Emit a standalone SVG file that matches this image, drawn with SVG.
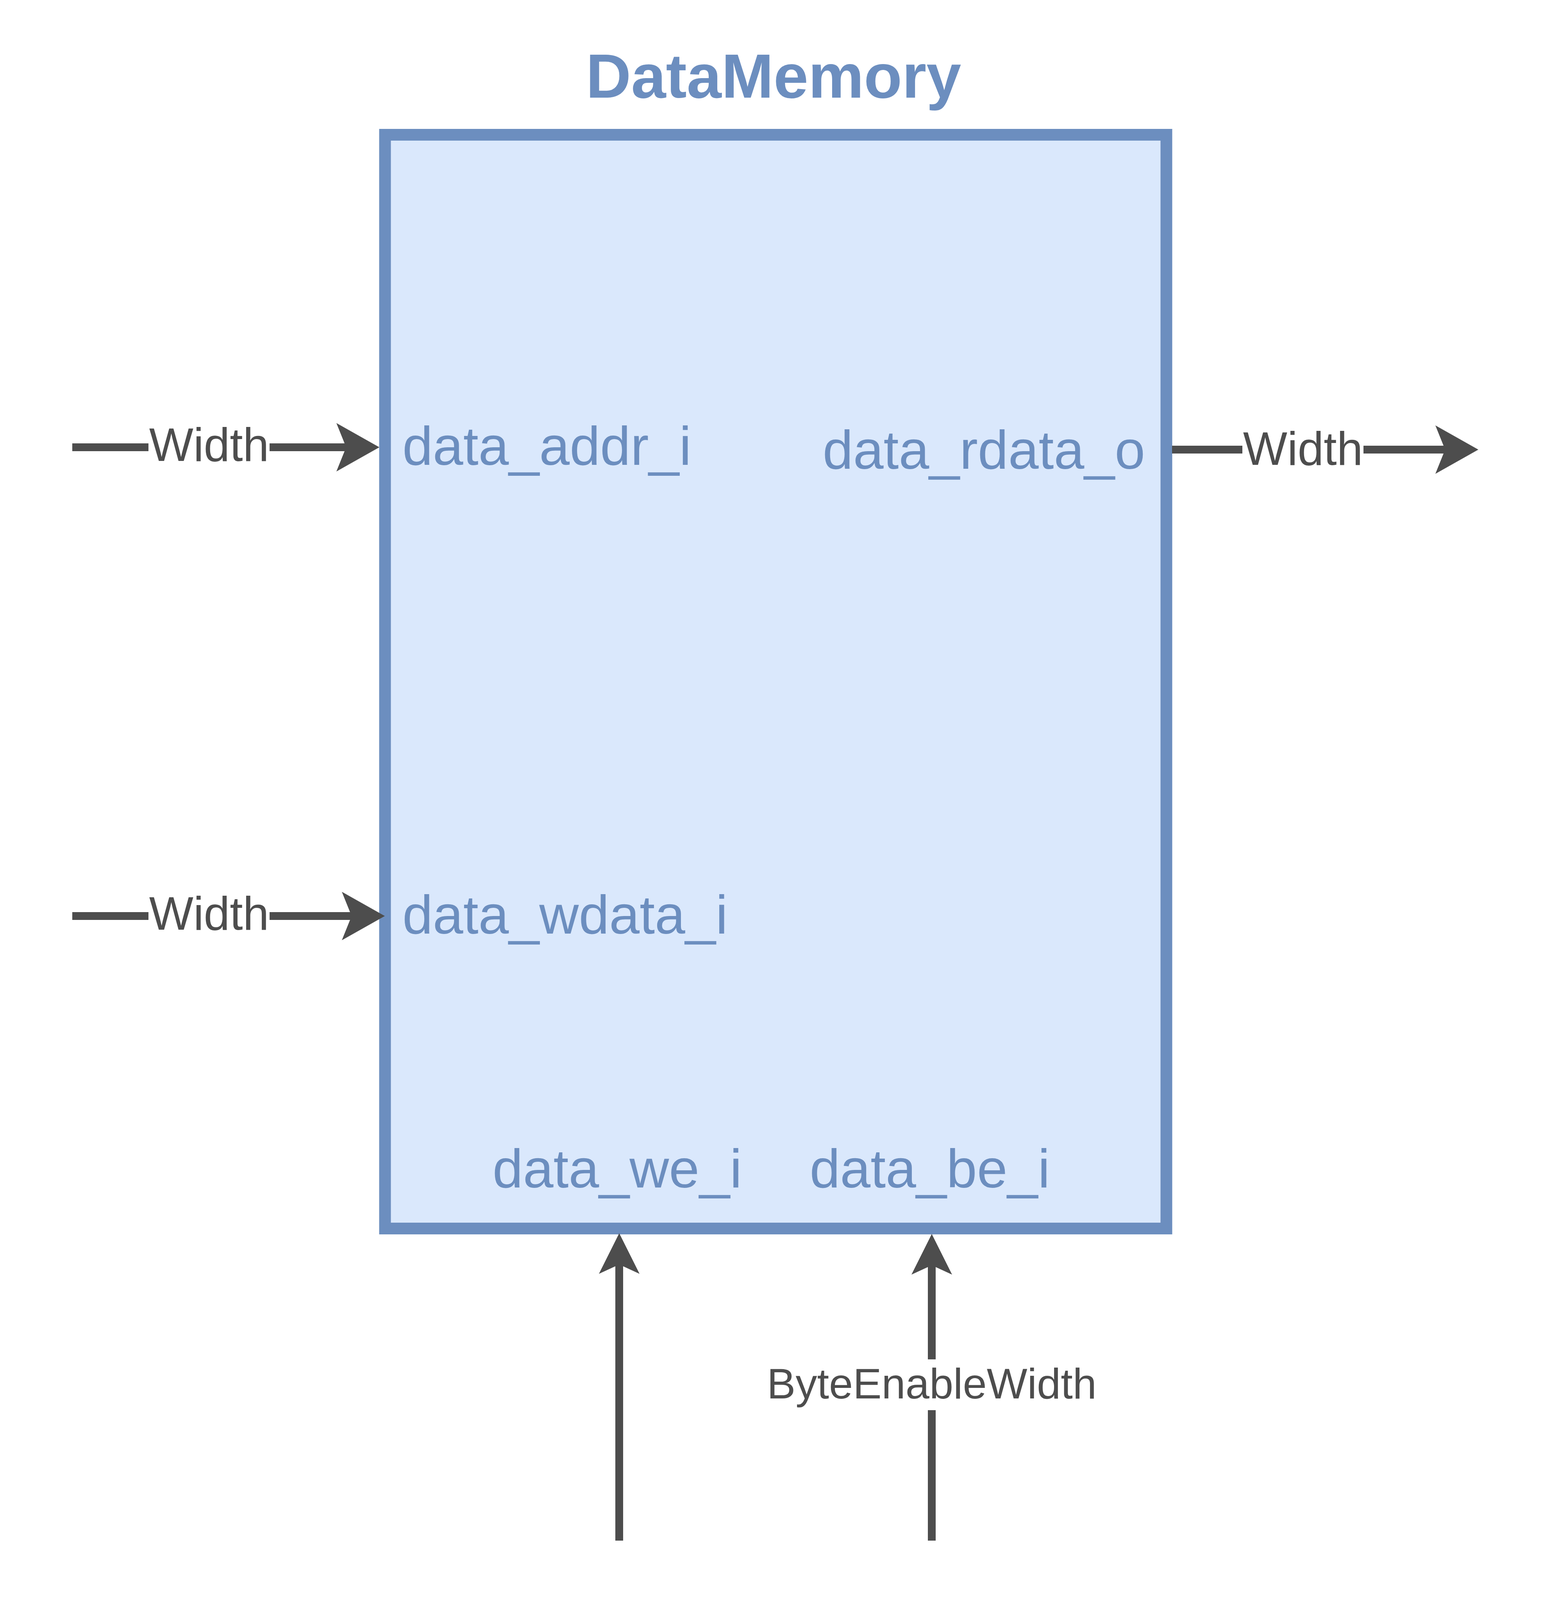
<svg xmlns="http://www.w3.org/2000/svg" width="3970" height="4120" viewBox="0 0 3970 4120">
<style>
.bg{fill:#ffffff}
.block{fill:#dae8fc;stroke:#6c8ebf;stroke-width:30}
.title{font-family:"Liberation Sans",Arial,sans-serif;font-weight:bold;font-size:160px;fill:#6c8ebf}
.port{font-family:"Liberation Sans",Arial,sans-serif;font-size:140px;fill:#6c8ebf}
.wire{stroke:#4d4d4d;stroke-width:20;fill:none}
.wlabel{font-family:"Liberation Sans",Arial,sans-serif;font-size:120px;fill:#4d4d4d}
.blabel{font-family:"Liberation Sans",Arial,sans-serif;font-size:110px;fill:#4d4d4d}
.lbg{fill:#ffffff}
</style>
<defs>
<marker id="arrowH" markerUnits="userSpaceOnUse" viewBox="-25 -62 110 124" markerWidth="110" markerHeight="124" refX="0" refY="0" orient="auto">
<path d="M85,0 L-25,-62 L0,0 L-25,62 Z" fill="#4d4d4d"/>
</marker>
<marker id="arrowV" markerUnits="userSpaceOnUse" viewBox="-24 -52 104 104" markerWidth="104" markerHeight="104" refX="0" refY="0" orient="auto">
<path d="M80,0 L-24,-52 L0,0 L-24,52 Z" fill="#4d4d4d"/>
</marker>
</defs>
<rect class="bg" x="0" y="0" width="3970" height="4120"/>
<g id="DataMemory">
<rect class="block" x="985.5" y="345" width="2000" height="2800"/>
<text class="title" x="1980" y="250" text-anchor="middle">DataMemory</text>
<text class="port" x="1030" y="1190">data_addr_i</text>
<text class="port" x="2931" y="1200" text-anchor="end">data_rdata_o</text>
<text class="port" x="1030" y="2390">data_wdata_i</text>
<text class="port" x="1580" y="3040" text-anchor="middle">data_we_i</text>
<text class="port" x="2380" y="3040" text-anchor="middle">data_be_i</text>
</g>
<g id="connectors">
<g id="conn_addr">
<line class="wire" x1="185" y1="1145" x2="886" y2="1145" marker-end="url(#arrowH)"/>
<rect class="lbg" x="380" y="1080" width="310" height="130"/>
<text class="wlabel" x="535" y="1180" text-anchor="middle">Width</text>
</g>
<g id="conn_wdata">
<line class="wire" x1="185" y1="2345" x2="900" y2="2345" marker-end="url(#arrowH)"/>
<rect class="lbg" x="380" y="2280" width="310" height="130"/>
<text class="wlabel" x="535" y="2380" text-anchor="middle">Width</text>
</g>
<g id="conn_rdata">
<line class="wire" x1="3000" y1="1151" x2="3699" y2="1151" marker-end="url(#arrowH)"/>
<rect class="lbg" x="3180" y="1090" width="310" height="130"/>
<text class="wlabel" x="3335" y="1190" text-anchor="middle">Width</text>
</g>
<g id="conn_we">
<line class="wire" x1="1585" y1="3944" x2="1585" y2="3237" marker-end="url(#arrowV)"/>
</g>
<g id="conn_be">
<line class="wire" x1="2385" y1="3944" x2="2385" y2="3239" marker-end="url(#arrowV)"/>
<rect class="lbg" x="1963" y="3480" width="844" height="130"/>
<text class="blabel" x="2385" y="3580" text-anchor="middle">ByteEnableWidth</text>
</g>
</g>
</svg>
